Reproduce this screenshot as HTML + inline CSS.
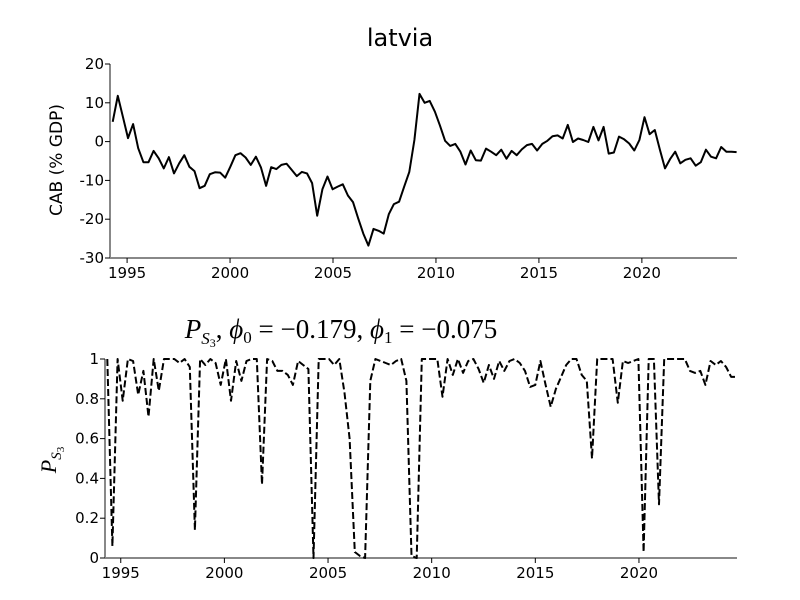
<!DOCTYPE html>
<html><head><meta charset="utf-8"><style>
html,body{margin:0;padding:0;background:#fff;}
svg{display:block;font-family:"DejaVu Sans","Liberation Sans",sans-serif;}
.m{font-family:"Liberation Serif","DejaVu Serif",serif;}
</style></head><body>
<svg id="c" width="800" height="600" viewBox="0 0 800 600">
<text x="400" y="46" text-anchor="middle" font-size="24">latvia</text>
<text transform="translate(62,160) rotate(-90)" text-anchor="middle" font-size="17">CAB (% GDP)</text>
<text x="341" y="338" text-anchor="middle" font-size="27" class="m"><tspan font-style="italic">P</tspan><tspan font-style="italic" font-size="17" dy="6">S</tspan><tspan font-size="12" dy="3">3</tspan><tspan dy="-9">, </tspan><tspan font-style="italic">ϕ</tspan><tspan font-size="17" dy="5">0</tspan><tspan dy="-5"> = −0.179, </tspan><tspan font-style="italic">ϕ</tspan><tspan font-size="17" dy="5">1</tspan><tspan dy="-5"> = −0.075</tspan></text>
<text transform="translate(56,460) rotate(-90)" text-anchor="middle" font-size="22" class="m"><tspan font-style="italic">P</tspan><tspan font-style="italic" font-size="15" dy="5">S</tspan><tspan font-size="11" dy="3">3</tspan></text>
<g id="top"></g>
<g id="bot"></g>
</svg>
<script>
const cabValues=[5.1,11.8,6.4,0.9,4.5,-1.7,-5.3,-5.3,-2.4,-4.3,-6.9,-4.0,-8.2,-5.6,-3.5,-6.5,-7.6,-12.0,-11.4,-8.4,-7.9,-8.0,-9.3,-6.5,-3.5,-3.0,-4.1,-6.0,-3.9,-6.7,-11.4,-6.6,-7.1,-6.0,-5.7,-7.3,-8.9,-7.8,-8.2,-10.7,-19.1,-12.3,-9.0,-12.3,-11.6,-11.0,-13.9,-15.6,-19.8,-23.7,-26.8,-22.5,-23.0,-23.7,-18.7,-16.1,-15.5,-11.6,-7.8,0.4,12.3,10.0,10.5,7.7,4.1,0.2,-1.1,-0.6,-2.6,-5.9,-2.3,-4.8,-4.9,-1.8,-2.6,-3.5,-2.1,-4.4,-2.4,-3.5,-2.0,-0.9,-0.6,-2.3,-0.6,0.2,1.4,1.6,0.8,4.3,-0.1,0.8,0.4,-0.1,3.8,0.3,3.8,-3.1,-2.8,1.3,0.6,-0.5,-2.3,0.4,6.3,1.9,3.0,-2.1,-6.9,-4.5,-2.6,-5.6,-4.7,-4.3,-6.2,-5.3,-2.1,-3.9,-4.3,-1.4,-2.6,-2.6,-2.7];
const probValues=[1,0.06,1,0.79,1,0.99,0.82,0.94,0.71,1,0.84,1,1,1,0.98,1,0.96,0.14,1,0.97,1,0.98,0.87,1,0.79,0.99,0.89,0.99,1,1,0.37,1,0.99,0.94,0.94,0.92,0.87,0.99,0.97,0.95,0,1,1,1,0.97,1,0.83,0.6,0.03,0.01,0,0.89,1,0.99,0.98,0.97,0.99,1,0.89,0.01,0,1,1,1,1,0.81,1,0.92,1,0.93,0.99,1,0.95,0.88,0.97,0.9,0.99,0.94,0.99,1,0.98,0.94,0.86,0.87,0.99,0.87,0.76,0.85,0.91,0.97,1,1,0.92,0.89,0.5,1,1,1,1,0.78,0.99,0.98,0.99,1,0.03,1,1,0.27,1,1,1,1,1,0.94,0.93,0.94,0.87,0.99,0.97,0.99,0.96,0.91,0.91];
const cabTicks=[20,10,0,-10,-20,-30];
const probTicks=[1,0.8,0.6,0.4,0.2,0];
const probTickLabels=["1","0.8","0.6","0.4","0.2","0"];
const yearTicks=[1995,2000,2005,2010,2015,2020];
const cabStart=1994.3, cabEnd=2024.6, probStart=1994.35, probEnd=2024.7;

const NS="http://www.w3.org/2000/svg";
function mk(parent,tag,attrs){const e=document.createElementNS(NS,tag);for(const k in attrs)e.setAttribute(k,attrs[k]);parent.appendChild(e);return e;}
function panel(g,o){
  const xs=t=>o.x0+(t-o.t0)/(o.t1-o.t0)*(o.x1-o.x0);
  const ys=v=>o.yb+(v-o.v0)/(o.v1-o.v0)*(o.yt-o.yb);
  const ax=mk(g,'line',{x1:o.x0,x2:o.x0,y1:o.yt,y2:o.yb,stroke:'#888','stroke-width':2});
  
  
  const bx=mk(g,'line',{x1:o.x0,x2:o.x1,y1:o.yb,y2:o.yb,stroke:'#888','stroke-width':2});
  
  
  o.yTicks.forEach((v,i)=>{
    const y=ys(v);
    const tk=mk(g,'line',{x1:o.x0-5,x2:o.x0,y1:y,y2:y,stroke:'#000','stroke-width':1});
    
    
    const t=mk(g,'text',{x:o.x0-6,y:y+5,'text-anchor':'end','font-size':15});
    t.textContent=o.yLabels[i];
    
    
  });
  yearTicks.forEach(yr=>{
    const x=xs(yr);
    const tk=mk(g,'line',{x1:x,x2:x,y1:o.yb,y2:o.yb+5,stroke:'#000','stroke-width':1});
    
    
    const t=mk(g,'text',{x:x,y:o.yb+20,'text-anchor':'middle','font-size':15});
    t.textContent=String(yr);
    
    
  });
  const n=o.vals.length;
  const pts=o.vals.map((v,i)=>xs(o.s0+i*(o.s1-o.s0)/(n-1)).toFixed(1)+','+ys(v).toFixed(1)).join(' ');
  const p=mk(g,'polyline',{points:pts,fill:'none',stroke:'#000','stroke-width':2,'stroke-linejoin':'round'});
  if(o.dash)p.setAttribute('stroke-dasharray','7,3');
  
  
}
panel(document.getElementById('top'),{x0:110,x1:737,t0:1994.17,t1:2024.62,yt:64,yb:258,v0:-30,v1:20,
  yTicks:cabTicks,yLabels:cabTicks.map(String),vals:cabValues,s0:cabStart,s1:cabEnd,name:'cab-line',dash:false});
panel(document.getElementById('bot'),{x0:105,x1:737,t0:1994.24,t1:2024.73,yt:359,yb:558,v0:0,v1:1,
  yTicks:probTicks,yLabels:probTickLabels,vals:probValues,s0:probStart,s1:probEnd,name:'probability-line',dash:true});
</script>
</body></html>
